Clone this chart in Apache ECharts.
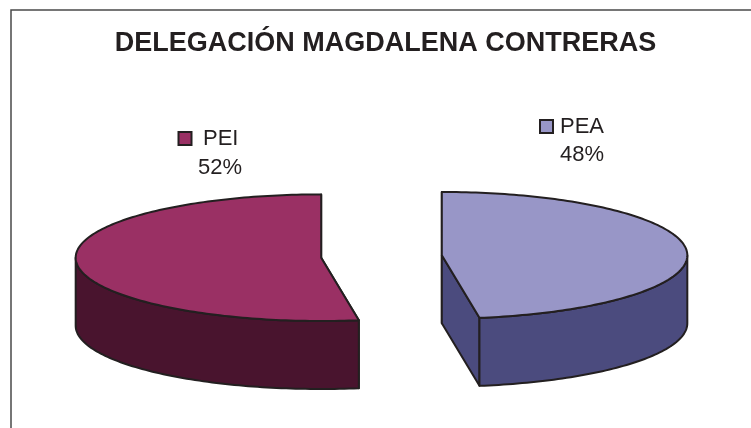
<!DOCTYPE html>
<html>
<head>
<meta charset="utf-8">
<style>html,body{margin:0;padding:0;background:#fff}#c{width:751px;height:428px}</style>
<script src="https://cdn.jsdelivr.net/npm/echarts@6/dist/echarts.min.js"></script>
</head>
<body>
<div id="c"></div>
<script>
const titleText = 'DELEGACIÓN MAGDALENA CONTRERAS';
const categories = ['PEA', 'PEI'];
const values = [47.55, 52.45];
const topColors = ['#9896c7', '#9a3064'];
const sideColors = ['#4b4b7e', '#49142e'];
// pie layout
const pie = { cx: 381.5, cy: 256.5, rx: 245.5, ry: 63.3, depth: 68, explode: 60.5 };
// label anchor (left of key, top of key)
const labelBoxes = [
  { keyX: 540, keyY: 120, textX: 560, pctX: 560, textY: 126.5, pctY: 155 },
  { keyX: 178.5, keyY: 132, textX: 203, pctX: 198, textY: 139, pctY: 168 }
];
const ink = '#231f20';
const total = values.reduce((a, b) => a + b, 0);
const chart = echarts.init(document.getElementById('c'), null, { renderer: 'canvas' });

function renderItem(params, api) {
  const i = params.dataIndex;
  let before = 0;
  for (let k = 0; k < i; k++) before += values[k];
  const a0 = before / total * Math.PI * 2;
  const a1 = (before + api.value(0)) / total * Math.PI * 2;
  const mid = (a0 + a1) / 2;
  const cx = pie.cx + pie.explode * Math.sin(mid);
  const cy = pie.cy - pie.explode * Math.cos(mid) * pie.ry / pie.rx;
  const pt = (a, dz) => [cx + pie.rx * Math.sin(a), cy - pie.ry * Math.cos(a) + (dz || 0)];
  const arc = (s, e, dz) => {
    const n = Math.max(2, Math.ceil((e - s) / 0.02));
    const out = [];
    for (let j = 0; j <= n; j++) out.push(pt(s + (e - s) * j / n, dz));
    return out;
  };
  const line = { stroke: ink, lineWidth: 2, lineJoin: 'round' };
  const poly = (points, fill) => ({
    type: 'polygon', shape: { points }, style: Object.assign({ fill }, line)
  });
  const apex = [cx, cy], apexLow = [cx, cy + pie.depth];
  const children = [];
  // cut faces
  [a0, a1].forEach(a => children.push(poly(
    [apex, pt(a), pt(a, pie.depth), apexLow], sideColors[i])));
  // outer wall: only the front half of the rim
  const ws = Math.max(a0, Math.PI / 2), we = Math.min(a1, Math.PI * 1.5);
  if (we > ws) {
    children.push(poly(arc(ws, we, 0).concat(arc(ws, we, pie.depth).reverse()), sideColors[i]));
  }
  // top face
  children.push(poly([apex].concat(arc(a0, a1, 0)), topColors[i]));
  // label
  const b = labelBoxes[i];
  children.push({
    type: 'rect', shape: { x: b.keyX, y: b.keyY, width: 13, height: 13 },
    style: { fill: topColors[i], stroke: ink, lineWidth: 2 }
  });
  children.push({
    type: 'text', x: b.textX, y: b.textY,
    style: { text: categories[i], fill: ink,
      font: '22px "Liberation Sans", Arial, sans-serif', verticalAlign: 'middle', align: 'left' }
  });
  children.push({
    type: 'text', x: b.pctX, y: b.pctY,
    style: { text: Math.round(api.value(0) / total * 100) + '%', fill: ink,
      font: '22px "Liberation Sans", Arial, sans-serif', verticalAlign: 'middle', align: 'left' }
  });
  return { type: 'group', children };
}

chart.setOption({
  animation: false,
  backgroundColor: '#ffffff',
  title: {
    text: titleText, left: 380.5, top: 25, textAlign: 'center',
    textStyle: { color: ink, fontFamily: '"Liberation Sans", Arial, sans-serif', fontWeight: 'bold', fontSize: 27 }
  },
  graphic: [{
    type: 'polyline', shape: { points: [[11, 428], [11, 10], [751, 10]] },
    style: { stroke: '#4a4a4a', lineWidth: 1.5, fill: null }, silent: true
  }],
  series: [{
    type: 'custom', coordinateSystem: 'none', renderItem,
    data: values.map((v, i) => ({ name: categories[i], value: [v, i] }))
  }]
});
</script>
</body>
</html>
